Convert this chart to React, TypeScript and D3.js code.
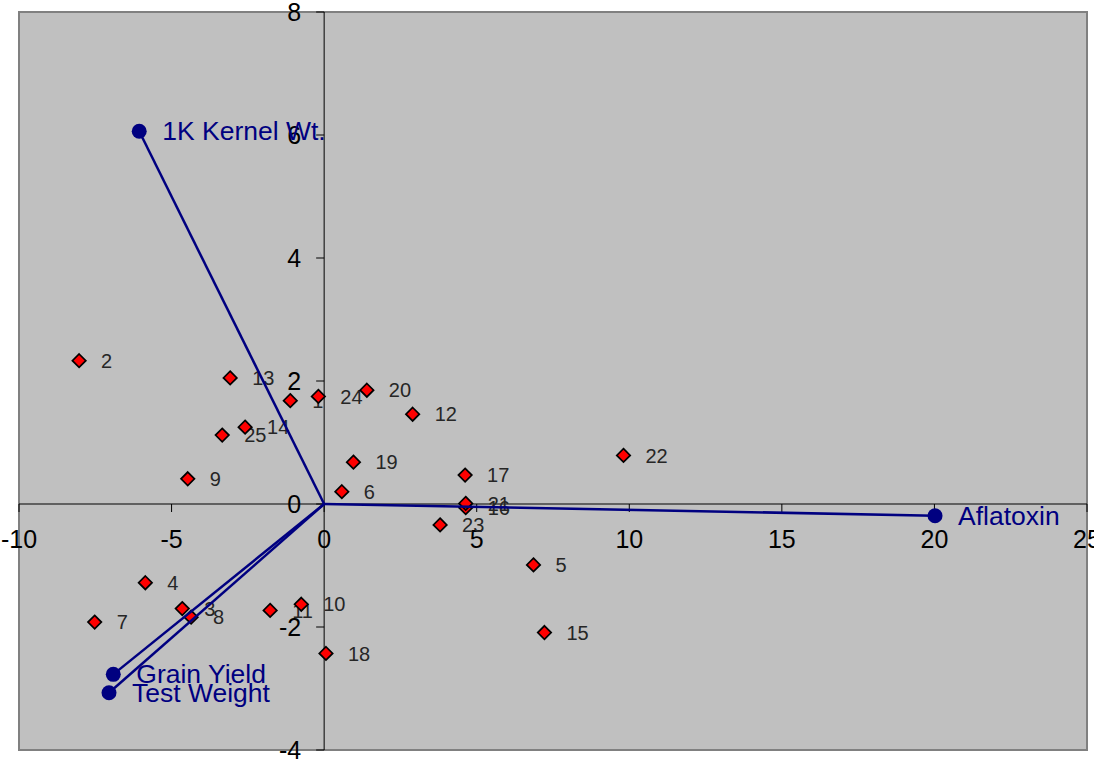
import React from "react";
import * as d3 from "d3";

const pointLabels = ["1","2","3","4","5","6","7","8","9","10","11","12","13","14","15","16","17","18","19","20","21","22","23","24","25"];
const pointX = [-1.11,-8.03,-4.65,-5.86,6.86,0.58,-7.52,-4.36,-4.47,-0.75,-1.77,2.90,-3.08,-2.59,7.22,4.64,4.62,0.06,0.96,1.40,4.64,9.81,3.80,-0.19,-3.34];
const pointY = [1.68,2.33,-1.70,-1.28,-0.99,0.20,-1.92,-1.84,0.41,-1.63,-1.73,1.46,2.05,1.25,-2.09,-0.06,0.47,-2.43,0.68,1.85,0.01,0.79,-0.34,1.75,1.12];

const vectorNames = ["Aflatoxin","Test Weight","Grain Yield","1K Kernel Wt."];
const vectorX = [20.02,-7.05,-6.91,-6.06];
const vectorY = [-0.19,-3.07,-2.77,6.06];

const xTicks = [-10,-5,0,5,10,15,20,25];
const yTicks = [-4,-2,0,2,4,6,8];

const W = 1094, H = 762;
const left = 19, right = 1087, top = 12, bottom = 750;
const FONT = "'Liberation Sans', Arial, sans-serif";

export default function App() {
  const x = d3.scaleLinear().domain([-10, 25]).range([left, right]);
  const y = d3.scaleLinear().domain([-4, 8]).range([bottom, top]);
  const x0 = x(0), y0 = y(0);
  const diamond = d3.symbol().type(d3.symbolDiamond2).size(115)() as string;

  return (
    <svg width={W} height={H} style={{ position: "absolute", left: 0, top: 0, background: "#fff" }}>
      <rect x={0} y={0} width={W} height={H} fill="#fff" />
      <rect x={left} y={top} width={right - left} height={bottom - top} fill="#c0c0c0" stroke="#808080" strokeWidth={2} />
      {/* axes */}
      <line x1={left} x2={right} y1={y0} y2={y0} stroke="#000" strokeWidth={1} />
      <line x1={x0} x2={x0} y1={top} y2={bottom} stroke="#000" strokeWidth={1} />
      {xTicks.map((t) => (
        <g key={"xt" + t}>
          <line x1={x(t)} x2={x(t)} y1={y0} y2={y0 + 8} stroke="#000" strokeWidth={1} />
          <text x={x(t)} y={y0 + 44} textAnchor="middle" fontFamily={FONT} fontSize={25} fill="#000">{t}</text>
        </g>
      ))}
      {yTicks.map((t) => (
        <g key={"yt" + t}>
          <line x1={x0 - 8} x2={x0} y1={y(t)} y2={y(t)} stroke="#000" strokeWidth={1} />
          <text x={x0 - 23} y={y(t)} dy="0.36em" textAnchor="end" fontFamily={FONT} fontSize={25} fill="#000">{t}</text>
        </g>
      ))}
      {/* point labels */}
      {pointLabels.map((l, i) => (
        <text key={"pl" + l} x={x(pointX[i]) + 22} y={y(pointY[i])} dy="0.36em" fontFamily={FONT} fontSize={20} fill="#262626">{l}</text>
      ))}
      {/* points */}
      {pointLabels.map((l, i) => (
        <path key={"p" + l} d={diamond} transform={`translate(${x(pointX[i])},${y(pointY[i])})`} fill="#ff0000" stroke="#000" strokeWidth={1.7} />
      ))}
      {/* vectors */}
      {vectorNames.map((n, i) => (
        <line key={"vl" + n} x1={x0} y1={y0} x2={x(vectorX[i])} y2={y(vectorY[i])} stroke="#000080" strokeWidth={2.5} />
      ))}
      {vectorNames.map((n, i) => (
        <circle key={"vc" + n} cx={x(vectorX[i])} cy={y(vectorY[i])} r={7.5} fill="#000080" />
      ))}
      {vectorNames.map((n, i) => (
        <g key={"vt" + n} transform={`translate(${x(vectorX[i]) + 23},${y(vectorY[i])}) scale(1.06,1)`}>
          <text x={0} y={0} dy="0.36em" fontFamily={FONT} fontSize={25} fill="#000080">{n}</text>
        </g>
      ))}
    </svg>
  );
}
